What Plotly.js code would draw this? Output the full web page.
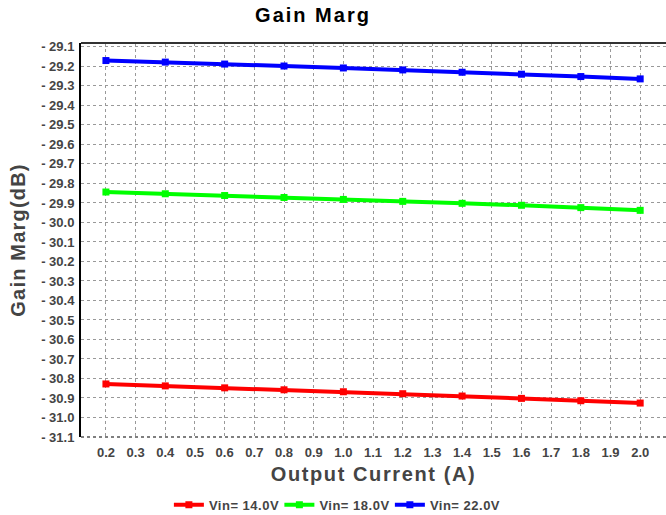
<!DOCTYPE html>
<html><head><meta charset="utf-8">
<script src="https://cdn.plot.ly/plotly-3.0.1.min.js"></script>
<style>body{margin:0;background:#fff}#c{width:666px;height:515px}
#c .gtitle{letter-spacing:2px}
#c .xtitle{letter-spacing:1.6px}
#c .ytitle{letter-spacing:1.2px}
#c .legendtext{letter-spacing:0.5px}
</style>
</head><body><div id="c"></div>
<script>
var current = [0.2,0.4,0.6,0.8,1.0,1.2,1.4,1.6,1.8,2.0];
var vin14 = [-30.828,-30.838,-30.848,-30.858,-30.868,-30.878,-30.890,-30.902,-30.914,-30.926];
var vin18 = [-29.844,-29.853,-29.862,-29.872,-29.882,-29.892,-29.902,-29.912,-29.924,-29.938];
var vin22 = [-29.170,-29.178,-29.188,-29.198,-29.208,-29.218,-29.230,-29.240,-29.252,-29.264];
var seriesNames = ['Vin= 14.0V','Vin= 18.0V','Vin= 22.0V'];
var colors = ['#ff0000','#00ff00','#0000ff'];
var xTicks = [0.2,0.3,0.4,0.5,0.6,0.7,0.8,0.9,1.0,1.1,1.2,1.3,1.4,1.5,1.6,1.7,1.8,1.9,2.0];
var yTicks = [-29.1,-29.2,-29.3,-29.4,-29.5,-29.6,-29.7,-29.8,-29.9,-30.0,-30.1,-30.2,-30.3,-30.4,-30.5,-30.6,-30.7,-30.8,-30.9,-31.0,-31.1];
var yTickText = yTicks.map(function(v){return '- ' + Math.abs(v).toFixed(1);});
var xTickText = xTicks.map(function(v){return v.toFixed(1);});

var data = [vin14, vin18, vin22].map(function(ys,i){
  return {x: current, y: ys, type:'scatter', mode:'lines+markers', name: seriesNames[i],
    line:{color:colors[i], width:4}, marker:{symbol:'square', size:7, color:colors[i]}};
});
var fam = 'Liberation Sans, Arial, sans-serif';
var layout = {
  width:666, height:515,
  margin:{l:81, r:0, t:43, b:78},
  paper_bgcolor:'#fff', plot_bgcolor:'#fff',
  title:{text:'<b>Gain Marg</b>', x:0.47, xanchor:'center', y:0.985, yanchor:'top',
    font:{family:fam, size:20, color:'#000'}},
  xaxis:{range:[0.116,2.087], tickvals:xTicks, ticktext:xTickText, tickfont:{family:fam,size:13,color:'#444',weight:'bold'},
    showgrid:true, gridcolor:'#999', griddash:'dot', gridwidth:1, zeroline:false, automargin:false,
    showline:false, ticks:'', ticklen:0, ticklabelstandoff:6,
    title:{text:'<b>Output Current (A)</b>', font:{family:fam,size:20,color:'#444'}, standoff:7}},
  yaxis:{range:[-31.1,-29.08], tickvals:yTicks, ticktext:yTickText, tickfont:{family:fam,size:13,color:'#444',weight:'bold'},
    showgrid:true, gridcolor:'#999', griddash:'dot', gridwidth:1, zeroline:false, automargin:false,
    showline:true, linecolor:'#000', linewidth:2, mirror:false, ticks:'', ticklabelstandoff:2,
    title:{text:'<b>Gain Marg(dB)</b>', font:{family:fam,size:20,color:'#444'}, standoff:10}},
  showlegend:true,
  legend:{orientation:'h', x:0.434, xanchor:'center', yref:'container', y:0.02, yanchor:'middle',
    font:{family:fam,size:13,color:'#444',weight:'bold'}, itemwidth:30, tracegroupgap:0},
  shapes:[{type:'line', xref:'paper', yref:'paper', x0:0, x1:1, y0:1, y1:1, line:{color:'#333', width:2}},
          {type:'line', xref:'paper', yref:'paper', x0:0, x1:1, y0:0, y1:0, line:{color:'#555', width:1.5, dash:'dot'}}]
};
Plotly.newPlot('c', data, layout, {displayModeBar:false});
</script></body></html>
